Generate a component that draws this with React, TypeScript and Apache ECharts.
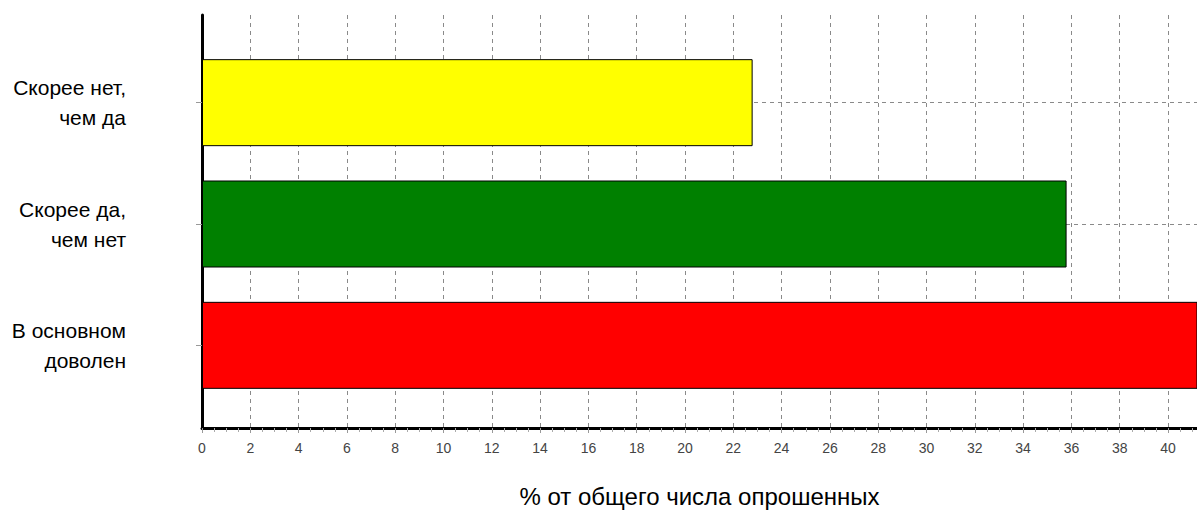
import React, { useEffect, useRef } from "react";
import * as echarts from "echarts";

const categories = ["Скорее нет,\nчем да", "Скорее да,\nчем нет", "В основном\nдоволен"];
const values = [22.8, 35.8, 41.6];
const barColors = ["#ffff00", "#008000", "#ff0000"];
const xMin = 0;
const xMax = 41.2;
const xInterval = 2;
const axisTitle = "% от общего числа опрошенных";

const FONT = "'Liberation Sans', Arial, sans-serif";

export default function App() {
  const ref = useRef<HTMLDivElement>(null);
  useEffect(() => {
    const chart = echarts.init(ref.current!, null, { renderer: "svg" });
    chart.setOption({
      animation: false,
      backgroundColor: "#ffffff",
      grid: [
        { left: 202, right: 0, top: 15, height: 419 },
        { left: 202, right: 0, top: 42, height: 364 },
      ],
      xAxis: [
        {
          type: "value",
          gridIndex: 0,
          min: xMin,
          max: xMax,
          interval: xInterval,
          axisLine: { show: true, lineStyle: { color: "#000", width: 3 } },
          axisTick: { show: true, length: 5, lineStyle: { color: "#999" } },
          minorTick: { show: true, splitNumber: 4, length: 4, lineStyle: { color: "#aaa" } },
          axisLabel: {
            showMaxLabel: false,
            color: "#444",
            fontSize: 14,
            fontFamily: FONT,
            margin: 13,
          },
          splitLine: { show: true, lineStyle: { color: "#8a8a8a", type: [4, 4], width: 1 } },
          name: axisTitle,
          nameLocation: "middle",
          nameGap: 56,
          nameTextStyle: { color: "#000", fontSize: 24, fontFamily: FONT },
        },
        {
          type: "value",
          gridIndex: 1,
          min: xMin,
          max: xMax,
          show: false,
        },
      ],
      yAxis: [
        {
          type: "value",
          gridIndex: 0,
          min: 0,
          max: 1,
          axisLine: { show: true, lineStyle: { color: "#000", width: 3 } },
          axisTick: { show: false },
          axisLabel: { show: false },
          splitLine: { show: false },
        },
        {
          type: "category",
          gridIndex: 1,
          inverse: true,
          data: categories,
          axisLine: { show: false },
          axisTick: { show: true, alignWithLabel: true, length: 6, lineStyle: { color: "#999" } },
          axisLabel: {
            color: "#000",
            fontSize: 21,
            lineHeight: 30,
            fontFamily: FONT,
            margin: 76,
            padding: [0, 0, 5, 0],
          },
          splitLine: { show: false },
        },
      ],
      series: [
        {
          type: "bar",
          xAxisIndex: 1,
          yAxisIndex: 1,
          barWidth: 87,
          clip: true,
          z: 3,
          data: values.map((v, i) => ({
            value: v,
            itemStyle: { color: barColors[i], borderColor: "#000", borderWidth: 1 },
          })),
          markLine: {
            silent: true,
            z: 1,
            symbol: "none",
            label: { show: false },
            lineStyle: { color: "#8a8a8a", type: [4, 4], width: 1 },
            data: categories.map((c) => ({ yAxis: c })),
          },
        },
      ],
    });
    return () => chart.dispose();
  }, []);
  return (
    <div
      ref={ref}
      style={{ position: "fixed", left: 0, top: 0, width: 1197, height: 513 }}
    />
  );
}
